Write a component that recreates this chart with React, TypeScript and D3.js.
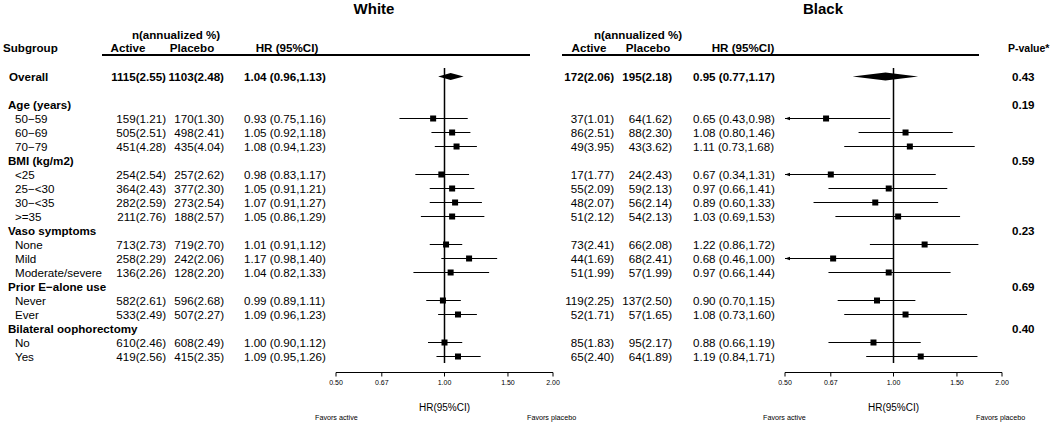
import React from "react";
import * as d3 from "d3";

const subgroupLabels = [
  "Overall", "", "Age (years)", "50−59", "60−69", "70−79",
  "BMI (kg/m2)", "<25", "25−<30", "30−<35", ">=35",
  "Vaso symptoms", "None", "Mild", "Moderate/severe",
  "Prior E−alone use", "Never", "Ever",
  "Bilateral oophorectomy", "No", "Yes",
];
// 0 = group heading / overall, 1 = indented level, -1 = blank
const subgroupLevels = [0, -1, 0, 1, 1, 1, 0, 1, 1, 1, 1, 0, 1, 1, 1, 0, 1, 1, 0, 1, 1];
const dataRowIdx = [0, 3, 4, 5, 7, 8, 9, 10, 12, 13, 14, 16, 17, 19, 20];

const whiteActiveN = [1115, 159, 505, 451, 254, 364, 282, 211, 713, 258, 136, 582, 533, 610, 419];
const whiteActivePct = [2.55, 1.21, 2.51, 4.28, 2.54, 2.43, 2.59, 2.76, 2.73, 2.29, 2.26, 2.61, 2.49, 2.46, 2.56];
const whitePlaceboN = [1103, 170, 498, 435, 257, 377, 273, 188, 719, 242, 128, 596, 507, 608, 415];
const whitePlaceboPct = [2.48, 1.3, 2.41, 4.04, 2.62, 2.3, 2.54, 2.57, 2.7, 2.06, 2.2, 2.68, 2.27, 2.49, 2.35];
const whiteHR = [1.04, 0.93, 1.05, 1.08, 0.98, 1.05, 1.07, 1.05, 1.01, 1.17, 1.04, 0.99, 1.09, 1.0, 1.09];
const whiteLo = [0.96, 0.75, 0.92, 0.94, 0.83, 0.91, 0.91, 0.86, 0.91, 0.98, 0.82, 0.89, 0.96, 0.9, 0.95];
const whiteHi = [1.13, 1.16, 1.18, 1.23, 1.17, 1.21, 1.27, 1.29, 1.12, 1.4, 1.33, 1.11, 1.23, 1.12, 1.26];

const blackActiveN = [172, 37, 86, 49, 17, 55, 48, 51, 73, 44, 51, 119, 52, 85, 65];
const blackActivePct = [2.06, 1.01, 2.51, 3.95, 1.77, 2.09, 2.07, 2.12, 2.41, 1.69, 1.99, 2.25, 1.71, 1.83, 2.4];
const blackPlaceboN = [195, 64, 88, 43, 24, 59, 56, 54, 66, 68, 57, 137, 57, 95, 64];
const blackPlaceboPct = [2.18, 1.62, 2.3, 3.62, 2.43, 2.13, 2.14, 2.13, 2.08, 2.41, 1.99, 2.5, 1.65, 2.17, 1.89];
const blackHR = [0.95, 0.65, 1.08, 1.11, 0.67, 0.97, 0.89, 1.03, 1.22, 0.68, 0.97, 0.9, 1.08, 0.88, 1.19];
const blackLo = [0.77, 0.43, 0.8, 0.73, 0.34, 0.66, 0.6, 0.69, 0.86, 0.46, 0.66, 0.7, 0.73, 0.66, 0.84];
const blackHi = [1.17, 0.98, 1.46, 1.68, 1.31, 1.41, 1.33, 1.53, 1.72, 1.0, 1.44, 1.15, 1.6, 1.19, 1.71];

const pValueRows = [0, 2, 6, 11, 15, 18];
const pValues = ["0.43", "0.19", "0.59", "0.23", "0.69", "0.40"];

const axisTicks = [0.5, 0.67, 1.0, 1.5, 2.0];
const hrDomain = [0.5, 2.0];

const W = 1050;
const H = 422;
const FONT = "'Liberation Sans', Arial, Helvetica, sans-serif";
const FS = 11.6;

const f2 = d3.format(".2f");

const y = d3.scalePoint<number>().domain(d3.range(subgroupLabels.length)).range([76.5, 356.5]);

type Panel = {
  title: string;
  titleX: number;
  activeN: number[];
  activePct: number[];
  placeboN: number[];
  placeboPct: number[];
  hr: number[];
  lo: number[];
  hi: number[];
  activeRight: number;
  placeboRight: number;
  hrLeft: number;
  hdrAnn: number;
  hdrActive: number;
  hdrPlacebo: number;
  hdrHR: number;
  lineX0: number;
  lineX1: number;
  plotRange: [number, number];
  favActiveX: number;
  favPlaceboX: number;
  diamondH: number;
};

const panels: Panel[] = [
  {
    title: "White", titleX: 374,
    activeN: whiteActiveN, activePct: whiteActivePct,
    placeboN: whitePlaceboN, placeboPct: whitePlaceboPct,
    hr: whiteHR, lo: whiteLo, hi: whiteHi,
    activeRight: 166, placeboRight: 224, hrLeft: 244,
    hdrAnn: 176, hdrActive: 128, hdrPlacebo: 192, hdrHR: 287,
    lineX0: 102, lineX1: 530,
    plotRange: [336, 553],
    favActiveX: 315, favPlaceboX: 527,
    diamondH: 3.6,
  },
  {
    title: "Black", titleX: 823,
    activeN: blackActiveN, activePct: blackActivePct,
    placeboN: blackPlaceboN, placeboPct: blackPlaceboPct,
    hr: blackHR, lo: blackLo, hi: blackHi,
    activeRight: 614, placeboRight: 672, hrLeft: 693,
    hdrAnn: 638, hdrActive: 589, hdrPlacebo: 648, hdrHR: 743,
    lineX0: 562, lineX1: 979,
    plotRange: [785, 1002],
    favActiveX: 763, favPlaceboX: 976,
    diamondH: 4,
  },
];

function PanelView({ p }: { p: Panel }) {
  const x = d3.scaleLog().domain(hrDomain).range(p.plotRange);
  const x1 = x(1);
  const axisY = 372.5;
  return (
    <g>
      <text x={p.titleX} y={8.5} dy="0.35em" textAnchor="middle" fontWeight="bold" fontSize={15}>{p.title}</text>
      <text x={p.hdrAnn} y={35} dy="0.35em" textAnchor="middle" fontWeight="bold" fontSize={FS}>n(annualized %)</text>
      <text x={p.hdrActive} y={48} dy="0.35em" textAnchor="middle" fontWeight="bold" fontSize={FS}>Active</text>
      <text x={p.hdrPlacebo} y={48} dy="0.35em" textAnchor="middle" fontWeight="bold" fontSize={FS}>Placebo</text>
      <text x={p.hdrHR} y={48} dy="0.35em" textAnchor="middle" fontWeight="bold" fontSize={FS}>HR (95%CI)</text>
      <line x1={p.lineX0} x2={p.lineX1} y1={55} y2={55} stroke="#000" strokeWidth={2} />

      {dataRowIdx.map((ri, i) => {
        const bold = ri === 0 ? "bold" : "normal";
        const yy = y(ri) as number;
        return (
          <g key={"t" + ri} fontWeight={bold} fontSize={FS}>
            <text x={p.activeRight} y={yy} dy="0.35em" textAnchor="end">{`${p.activeN[i]}(${f2(p.activePct[i])})`}</text>
            <text x={p.placeboRight} y={yy} dy="0.35em" textAnchor="end">{`${p.placeboN[i]}(${f2(p.placeboPct[i])})`}</text>
            <text x={p.hrLeft} y={yy} dy="0.35em" textAnchor="start">{`${f2(p.hr[i])} (${f2(p.lo[i])},${f2(p.hi[i])})`}</text>
          </g>
        );
      })}

      <line x1={x1} x2={x1} y1={68} y2={363} stroke="#000" strokeWidth={1.5} />

      {dataRowIdx.map((ri, i) => {
        const yy = y(ri) as number;
        if (ri === 0) {
          const pts = [
            [x(p.lo[i]), yy], [x(p.hr[i]), yy - p.diamondH],
            [x(p.hi[i]), yy], [x(p.hr[i]), yy + p.diamondH],
          ];
          return <polygon key={"d" + ri} points={pts.map((q) => q.join(",")).join(" ")} fill="#000" />;
        }
        const clippedLo = p.lo[i] < hrDomain[0];
        const xl = x(Math.max(p.lo[i], hrDomain[0]));
        const xh = x(Math.min(p.hi[i], hrDomain[1]));
        const xm = x(p.hr[i]);
        return (
          <g key={"m" + ri}>
            <line x1={xl} x2={xh} y1={yy} y2={yy} stroke="#000" strokeWidth={1} />
            {clippedLo && (
              <polygon points={`${xl},${yy} ${xl + 5},${yy - 1.8} ${xl + 5},${yy + 1.8}`} fill="#000" />
            )}
            <rect x={xm - 3} y={yy - 3} width={6} height={6} fill="#000" />
          </g>
        );
      })}

      <line x1={p.plotRange[0]} x2={p.plotRange[1]} y1={axisY} y2={axisY} stroke="#000" strokeWidth={1} />
      {axisTicks.map((t) => (
        <g key={"k" + t}>
          <line x1={x(t)} x2={x(t)} y1={axisY} y2={axisY + 4} stroke="#000" strokeWidth={1} />
          <text x={x(t)} y={383} dy="0.35em" textAnchor="middle" fontSize={7}>{f2(t)}</text>
        </g>
      ))}
      <text x={x1} y={407} dy="0.35em" textAnchor="middle" fontSize={10}>HR(95%CI)</text>
      <text x={p.favActiveX} y={417} dy="0.35em" textAnchor="start" fontSize={7.2}>Favors active</text>
      <text x={p.favPlaceboX} y={417} dy="0.35em" textAnchor="start" fontSize={7.2}>Favors placebo</text>
    </g>
  );
}

export default function App() {
  return (
    <div style={{ position: "absolute", left: 0, top: 0, width: W, height: H, background: "#fff" }}>
      <svg width={W} height={H} style={{ display: "block" }} fontFamily={FONT} fill="#000">
        <rect x={0} y={0} width={W} height={H} fill="#fff" />
        <text x={3} y={48} dy="0.35em" fontWeight="bold" fontSize={FS}>Subgroup</text>
        {subgroupLabels.map((lab, ri) => {
          if (subgroupLevels[ri] < 0) return null;
          const lvl = subgroupLevels[ri];
          return (
            <text key={"s" + ri} x={lvl === 0 ? (ri === 0 ? 9 : 8) : 15} y={y(ri) as number} dy="0.35em"
              fontWeight={lvl === 0 ? "bold" : "normal"} fontSize={FS}>{lab}</text>
          );
        })}
        {panels.map((p) => <PanelView key={p.title} p={p} />)}
        <text x={1008} y={48} dy="0.35em" fontWeight="bold" fontSize={10.5}>P-value*</text>
        {pValueRows.map((ri, i) => (
          <text key={"p" + ri} x={1012} y={y(ri) as number} dy="0.35em" fontWeight="bold" fontSize={FS}>{pValues[i]}</text>
        ))}
      </svg>
    </div>
  );
}
